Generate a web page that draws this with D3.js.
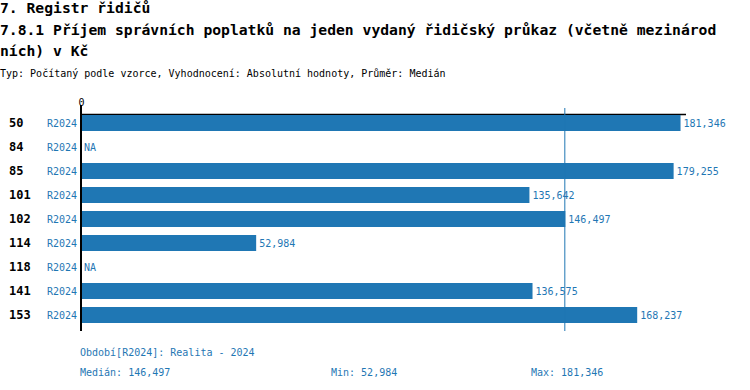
<!DOCTYPE html>
<html><head><meta charset="utf-8">
<script src="https://cdn.jsdelivr.net/npm/d3@7"></script>
<style>body{margin:0;background:#fff}svg{display:block}</style>
</head><body>
<script>
const titleLines = ["7. Registr řidičů", "7.8.1 Příjem správních poplatků na jeden vydaný řidičský průkaz (včetně mezinárod", "ních) v Kč"];
const subtitle = "Typ: Počítaný podle vzorce, Vyhodnocení: Absolutní hodnoty, Průměr: Medián";
const categories = ["50","84","85","101","102","114","118","141","153"];
const periods = ["R2024","R2024","R2024","R2024","R2024","R2024","R2024","R2024","R2024"];
const values = [181346, null, 179255, 135642, 146497, 52984, null, 136575, 168237];
const medianValue = 146497, minValue = 52984, maxValue = 181346;
const periodNote = "Období[R2024]: Realita - 2024";
const xTicks = [0];

const W=750,H=390, blue="#1f77b4";
const mono="'DejaVu Sans Mono', 'Liberation Mono', monospace";
const svg=d3.select("body").append("svg").attr("width",W).attr("height",H);
const fmt=d3.format(",");

const x=d3.scaleLinear().domain([0,183000]).range([81,686]);
const y=d3.scaleBand().domain(d3.range(categories.length)).range([111,327]).paddingInner(1/3).paddingOuter(1/6);

// titles
titleLines.forEach((t,i)=>{
  svg.append("text").attr("x",0).attr("y",[8,30,51][i]).attr("dy","0.35em")
    .attr("font-family",mono).attr("font-weight","bold").attr("font-size",14.7).attr("fill","#000").text(t);
});
svg.append("text").attr("x",0).attr("y",73).attr("dy","0.35em").attr("font-family",mono)
  .attr("font-size",10).attr("fill","#000").text(subtitle);

// top axis
const ax=svg.append("g").attr("transform","translate(0,114)")
  .call(d3.axisTop(x).tickValues(xTicks).tickSizeOuter(0).tickSizeInner(0).tickPadding(8));
ax.select(".domain").remove();
ax.selectAll(".tick line").remove();
ax.selectAll(".tick text").attr("font-family",mono).attr("font-size",10).attr("fill","#000");
svg.append("line").attr("x1",x.range()[0]).attr("x2",x.range()[1]).attr("y1",114.5).attr("y2",114.5)
  .attr("stroke","#000").attr("stroke-width",1.5);

// bars
svg.selectAll("rect.bar").data(values.map((v,i)=>({v,i})).filter(d=>d.v!=null)).enter()
  .append("rect").attr("class","bar").attr("x",x(0)).attr("y",d=>y(d.i))
  .attr("width",d=>x(d.v)-x(0)).attr("height",y.bandwidth()).attr("fill",blue);

// median line
svg.append("line").attr("x1",x(medianValue)-0.5).attr("x2",x(medianValue)-0.5).attr("y1",108).attr("y2",331)
  .attr("stroke",blue).attr("stroke-width",1);

// vertical axis line
svg.append("line").attr("x1",81).attr("x2",81).attr("y1",105).attr("y2",331).attr("stroke","#000").attr("stroke-width",2);

// labels
categories.forEach((c,i)=>{
  const cy=y(i)+y.bandwidth()/2;
  svg.append("text").attr("x",9).attr("y",cy).attr("dy","0.35em").attr("font-family",mono)
    .attr("font-weight","bold").attr("font-size",12).attr("fill","#000").text(c);
  svg.append("text").attr("x",77).attr("y",cy).attr("dy","0.35em").attr("text-anchor","end").attr("font-family",mono)
    .attr("font-size",10).attr("fill",blue).text(periods[i]);
  const v=values[i];
  svg.append("text").attr("x",v==null?x(0)+3:x(v)+3).attr("y",cy).attr("dy","0.35em").attr("font-family",mono)
    .attr("font-size",10).attr("fill",blue).text(v==null?"NA":fmt(v));
});

// footer
const foot=[[80,352,periodNote],[80,372,"Medián: "+fmt(medianValue)],[331,372,"Min: "+fmt(minValue)],[531,372,"Max: "+fmt(maxValue)]];
foot.forEach(f=>svg.append("text").attr("x",f[0]).attr("y",f[1]).attr("dy","0.35em").attr("font-family",mono)
  .attr("font-size",10).attr("fill",blue).text(f[2]));
</script>
</body></html>
